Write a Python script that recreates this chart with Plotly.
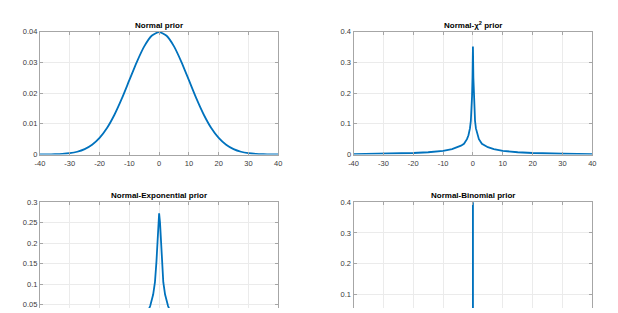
import plotly.graph_objects as go

# ---------------- data ----------------
x_ticks = [-40, -30, -20, -10, 0, 10, 20, 30, 40]
x_tick_labels = ["-40", "-30", "-20", "-10", "0", "10", "20", "30", "40"]

# Normal prior
x_normal = [-40, -37.5, -35, -32.5, -30, -27.5, -25, -22.5, -20, -17.5, -15, -12.5, -10, -7.5, -5, -2.5,
            0, 2.5, 5, 7.5, 10, 12.5, 15, 17.5, 20, 22.5, 25, 27.5, 30, 32.5, 35, 37.5, 40]
y_normal = [0.00001, 0.00004, 0.00009, 0.00020, 0.00044, 0.00091, 0.00175, 0.00317, 0.00540, 0.00863,
            0.01295, 0.01826, 0.02420, 0.03011, 0.03521, 0.03867, 0.03989,
            0.03867, 0.03521, 0.03011, 0.02420, 0.01826, 0.01295, 0.00863, 0.00540, 0.00317,
            0.00175, 0.00091, 0.00044, 0.00020, 0.00009, 0.00004, 0.00001]

# Normal-chi^2 prior
x_chi = [-40, -30, -20, -15, -10, -7, -5, -4, -3, -2, -1.5, -1, -0.7, -0.5, -0.3, -0.15,
         0, 0.15, 0.3, 0.5, 0.7, 1, 1.5, 2, 3, 4, 5, 7, 10, 15, 20, 30, 40]
y_chi = [0.0015, 0.0025, 0.005, 0.0075, 0.012, 0.018, 0.024, 0.029, 0.035, 0.05, 0.063, 0.085,
         0.11, 0.14, 0.19, 0.25, 0.352, 0.25, 0.19, 0.14, 0.11, 0.085, 0.063, 0.05, 0.035,
         0.029, 0.024, 0.018, 0.012, 0.0075, 0.005, 0.0025, 0.0015]

# Normal-Exponential prior
x_exp = [-40, -30, -20, -15, -10, -7, -5, -4, -3, -2, -1.4, -0.9, -0.6, -0.3,
         0, 0.3, 0.6, 0.9, 1.4, 2, 3, 4, 5, 7, 10, 15, 20, 30, 40]
y_exp = [0.0, 0.00003, 0.0003, 0.001, 0.004, 0.01, 0.02, 0.03, 0.047, 0.075, 0.105, 0.155, 0.2, 0.25,
         0.273, 0.25, 0.2, 0.155, 0.105, 0.075, 0.047, 0.03, 0.02, 0.01, 0.004, 0.001, 0.0003,
         0.00003, 0.0]

# Normal-Binomial prior (spike at zero)
x_bin = [-40, -20, -10, -5, -0.01, 0, 0.01, 5, 10, 20, 40]
y_bin = [0.0, 0.0, 0.0, 0.0, 0.0, 1.0, 0.0, 0.0, 0.0, 0.0, 0.0]

titles = ["Normal prior", "Normal-χ<sup>2</sup> prior", "Normal-Exponential prior", "Normal-Binomial prior"]

# ---------------- figure ----------------
W, H = 618, 313
LINE = "#0072BD"
AX = "#a6a6a6"
GRID = "#ebebeb"
TXT = "#3a3a3a"
FONT = "Liberation Sans, Arial, Helvetica, sans-serif"

xl = [35.5 / W, 277.3 / W]
xr = [353.7 / W, 596 / W]
yt = [1 - 155 / H, 1 - 28.5 / H]
yb = [0, 1 - 204 / H]

fig = go.Figure()
series = [(x_normal, y_normal, "spline"), (x_chi, y_chi, "linear"),
          (x_exp, y_exp, "linear"), (x_bin, y_bin, "linear")]
for i, (xs, ys, shape) in enumerate(series):
    sfx = "" if i == 0 else str(i + 1)
    fig.add_trace(go.Scatter(x=xs, y=ys, mode="lines", xaxis="x" + sfx, yaxis="y" + sfx,
                             line=dict(color=LINE, width=1.8, shape=shape, smoothing=0.6),
                             showlegend=False, hoverinfo="skip"))

common_x = dict(range=[-40, 40], tickvals=x_ticks, ticktext=x_tick_labels, showgrid=True,
                gridcolor=GRID, gridwidth=1, zeroline=False, showline=True, linecolor=AX,
                linewidth=1, ticks="inside", ticklen=3, tickcolor=AX, ticklabelstandoff=1,
                tickfont=dict(family=FONT, size=7.5, color=TXT))
common_y = dict(showgrid=True, gridcolor=GRID, gridwidth=1, zeroline=False, showline=True,
                linecolor=AX, linewidth=1, mirror="ticks", ticks="inside", ticklen=3, tickcolor=AX,
                tickfont=dict(family=FONT, size=7.5, color=TXT))

layout = dict(
    width=W, height=H, margin=dict(l=0, r=0, t=0, b=0),
    paper_bgcolor="white", plot_bgcolor="white", showlegend=False,
    xaxis=dict(domain=xl, anchor="y", mirror="ticks", **common_x),
    yaxis=dict(domain=yt, anchor="x", range=[0, 0.04], dtick=0.01, **common_y),
    xaxis2=dict(domain=xr, anchor="y2", mirror="ticks", **common_x),
    yaxis2=dict(domain=yt, anchor="x2", range=[0, 0.4], dtick=0.1, **common_y),
    xaxis3=dict(domain=xl, anchor="y3", side="top", mirror=False, showticklabels=False, **common_x),
    yaxis3=dict(domain=yb, anchor="x3", range=[0.0422, 0.3], tick0=0, dtick=0.05, **common_y),
    xaxis4=dict(domain=xr, anchor="y4", side="top", mirror=False, showticklabels=False, **common_x),
    yaxis4=dict(domain=yb, anchor="x4", range=[0.0569, 0.4], tick0=0, dtick=0.1, **common_y),
)
fig.update_layout(**layout)

title_pos = [(xl, yt[1]), (xr, yt[1]), (xl, yb[1]), (xr, yb[1])]
for t, (dom, ytop) in zip(titles, title_pos):
    fig.add_annotation(text="<b>" + t + "</b>", x=(dom[0] + dom[1]) / 2, y=ytop,
                       xref="paper", yref="paper", xanchor="center", yanchor="bottom",
                       yshift=0, showarrow=False,
                       font=dict(family=FONT, size=8, color="#000000"))

fig.write_html("out.html", config={"displayModeBar": False},
               post_script="document.body.style.margin='0';document.body.style.overflow='hidden';")
